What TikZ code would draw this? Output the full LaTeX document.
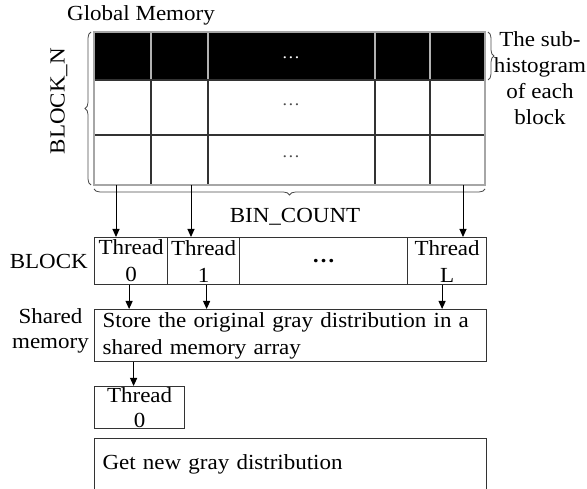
\documentclass[tikz,border=0pt]{standalone}
\usepackage{fontspec}
\setmainfont{Liberation Serif}[FakeStretch=1.07]
\usetikzlibrary{arrows.meta, positioning, decorations.pathreplacing}

\begin{document}
\begin{tikzpicture}[
    x=1pt, y=-1pt,
    >={Triangle[length=8pt, width=7pt]},
    every node/.style={font=\fontsize{21.5}{27}\selectfont},
    cell/.style={draw=black!80, line width=1.2pt, inner sep=0pt,
                 minimum height=47pt, align=center, anchor=north west},
    wide/.style={draw=black!80, line width=1.2pt, inner xsep=8pt, inner ysep=0pt,
                 text width=376pt, align=left, anchor=north west},
    flow/.style={->, line width=1pt},
    gbrace/.style={decorate, decoration={brace, amplitude=6pt},
                   line width=0.8pt, black!70}
  ]
  \useasboundingbox (0,0) rectangle (587,489);

  % Global memory: BLOCK_N rows of BIN_COUNT bins
  \node[anchor=west, inner sep=0pt] (gmem) at (67,15) {Global Memory};
  \fill (94,32) rectangle (485,80);
  \foreach \x in {151, 208, 375, 430} {
    \draw[gray!60, line width=1.2pt] (\x,32) -- (\x,80);
    \draw[black!80, line width=1.2pt] (\x,80) -- (\x,185);
  }
  \foreach \y in {80, 135}
    \draw[black!80, line width=1.2pt] (94,\y) -- (485,\y);
  \draw[gray!70, line width=1.2pt] (94,32) rectangle (485,185);
  \foreach \y/\n/\c in {59/1/white, 106/2/black!70, 158/3/black!70}
    \node[anchor=base, text=\c, font=\fontsize{17}{18}\selectfont] (dots\n) at (291,\y) {\dots};

  % Braces
  \draw[gbrace] (91,185) -- (91,32);
  \node[rotate=90] (blockn) at (59,101) {BLOCK\_N};
  \draw[gbrace] (488,32) -- (488,80);
  \node[align=center, inner sep=0pt] (subhist) at (540,78)
    {The sub-\\[-1pt]histogram\\[-1pt]of each\\[-1pt]block};
  \draw[gbrace] (485,189) -- (94,189);
  \node (bincount) at (295,217) {BIN\_COUNT};

  % Threads of one block
  \node[cell, minimum width=73pt] (t0) at (94,237) {Thread\\0};
  \node[cell, minimum width=72pt] (t1) at (167,237) {Thread\\1};
  \node[cell, minimum width=168pt] (tdots) at (239,237) {\textbf{\dots}};
  \node[cell, minimum width=79pt] (tL) at (407,237) {Thread\\L};
  \node[left=0pt of t0, inner sep=6pt] (blocklbl) {BLOCK};

  \coordinate (g0) at (116,185);
  \coordinate (g1) at (191,185);
  \coordinate (gL) at (463,185);
  \draw[flow] (g0) -- (g0 |- t0.north);
  \draw[flow] (g1) -- (g1 |- t1.north);
  \draw[flow] (gL) -- (gL |- tL.north);

  % Shared memory
  \node[wide, minimum height=52pt] (shm) at (94,309)
    {Store the original gray distribution in a\\shared memory array};
  \node[left=0pt of shm.west, yshift=5pt, inner sep=5pt, align=center] (shmlbl) {Shared\\[-2pt]memory};
  \draw[flow] ([xshift=-2pt]t0.south) -- ([xshift=-2pt]t0.south |- shm.north);
  \draw[flow] ([xshift=3pt]t1.south) -- ([xshift=3pt]t1.south |- shm.north);
  \draw[flow] ([xshift=-5pt]tL.south) -- ([xshift=-5pt]tL.south |- shm.north);

  % Final step
  \node[cell, minimum width=90pt, minimum height=42pt] (th0) at (94,386) {Thread\\[-2pt]0};
  \draw[flow] ([xshift=-6pt]th0.north |- shm.south) -- ([xshift=-6pt]th0.north);
  \node[wide, minimum height=51pt] (newdist) at (94,438) {Get new gray distribution};
\end{tikzpicture}
\end{document}
